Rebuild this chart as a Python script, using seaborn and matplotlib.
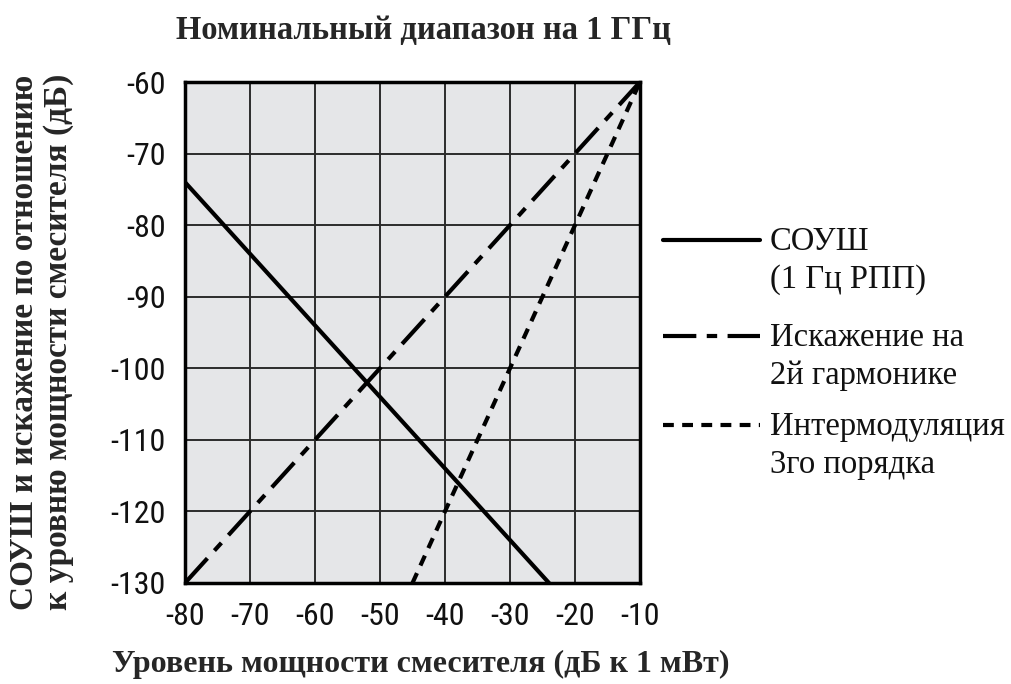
import matplotlib
matplotlib.use("Agg")
import matplotlib.pyplot as plt
import seaborn as sns
import pandas as pd
from matplotlib.lines import Line2D

# ---- data ----
snr_x = [-80, -24]
snr_y = [-74, -130]
harm2_x = [-80, -10]
harm2_y = [-130, -60]
im3_x = [-45, -10]
im3_y = [-130, -60]

x_ticks = [-80, -70, -60, -50, -40, -30, -20, -10]
x_tick_labels = ["-80", "-70", "-60", "-50", "-40", "-30", "-20", "-10"]
y_ticks = [-60, -70, -80, -90, -100, -110, -120, -130]
y_tick_labels = ["-60", "-70", "-80", "-90", "-100", "-110", "-120", "-130"]

title = "Номинальный диапазон на 1 ГГц"
xlabel = "Уровень мощности смесителя (дБ к 1 мВт)"
ylabel = "СОУШ и искажение по отношению\nк уровню мощности смесителя (дБ)"
labels = [("СОУШ", "(1 Гц РПП)"), ("Искажение на", "2й гармонике"), ("Интермодуляция", "3го порядка")]

sns.set_theme(style="white")
plt.rcParams['font.family'] = ['Liberation Serif', 'DejaVu Serif']

fig = plt.figure(figsize=(10.12, 6.84), dpi=100)
ax = fig.add_axes([0.1828, 0.1477, 0.6324 - 0.1828, 0.8801 - 0.1477])
ax.set_facecolor("#e5e6e8")

df1 = pd.DataFrame({"x": snr_x, "y": snr_y})
df2 = pd.DataFrame({"x": harm2_x, "y": harm2_y})
df3 = pd.DataFrame({"x": im3_x, "y": im3_y})

lw = 3.0
harm_dash = [8, 2.5, 2.5, 2.5]
im_dash = [2.6, 2]
sns.lineplot(data=df1, x="x", y="y", ax=ax, color="black", linewidth=lw)
sns.lineplot(data=df2, x="x", y="y", ax=ax, color="black", linewidth=lw)
ax.lines[-1].set_dashes(harm_dash)
sns.lineplot(data=df3, x="x", y="y", ax=ax, color="black", linewidth=lw)
ax.lines[-1].set_dashes(im_dash)

ax.set_xlim(-80, -10)
ax.set_ylim(-130, -60)
ax.set_xticks(x_ticks)
ax.set_xticklabels(x_tick_labels)
ax.set_yticks(y_ticks)
ax.set_yticklabels(y_tick_labels)
ax.grid(True, color="#2b2b2b", linewidth=1.4)
ax.set_axisbelow(True)
for s in ax.spines.values():
    s.set_color("black")
    s.set_linewidth(2.5)
ax.tick_params(axis="x", length=0, pad=14)
ax.tick_params(axis="y", length=0, pad=14)
tickfont = ['Roboto Condensed', 'Liberation Sans Narrow', 'DejaVu Sans']
for t in ax.get_xticklabels() + ax.get_yticklabels():
    t.set_family(tickfont)
    t.set_stretch("condensed")
    t.set_fontsize(23)
    t.set_color("#111111")
ax.set_xlabel("")
ax.set_ylabel("")

fig.text(0.418, 0.955, title, ha="center", va="center", fontsize=23.5, fontweight="bold")
fig.text(0.416, 0.028, xlabel, ha="center", va="center", fontsize=23, fontweight="bold")
fig.text(0.041, 0.50, ylabel, ha="center", va="center", rotation=90, fontsize=24,
         fontweight="bold", linespacing=1.1)

# manual legend
leg_y_px = [240, 336, 425]
dash_styles = [None, harm_dash, im_dash]
H = 684.0
for ypx, (l1, l2), ds in zip(leg_y_px, labels, dash_styles):
    yy = 1 - ypx / H
    ln = Line2D([663 / 1012, 760 / 1012], [yy, yy], transform=fig.transFigure,
                color="black", linewidth=lw)
    if ds is not None:
        ln.set_dashes(ds)
    fig.add_artist(ln)
    fig.text(770 / 1012, 1 - (ypx + 2) / H, l1, ha="left", va="center", fontsize=23.5, color="#111111")
    fig.text(770 / 1012, 1 - (ypx + 40) / H, l2, ha="left", va="center", fontsize=23.5, color="#111111")

fig.savefig("out.png", dpi=100)
